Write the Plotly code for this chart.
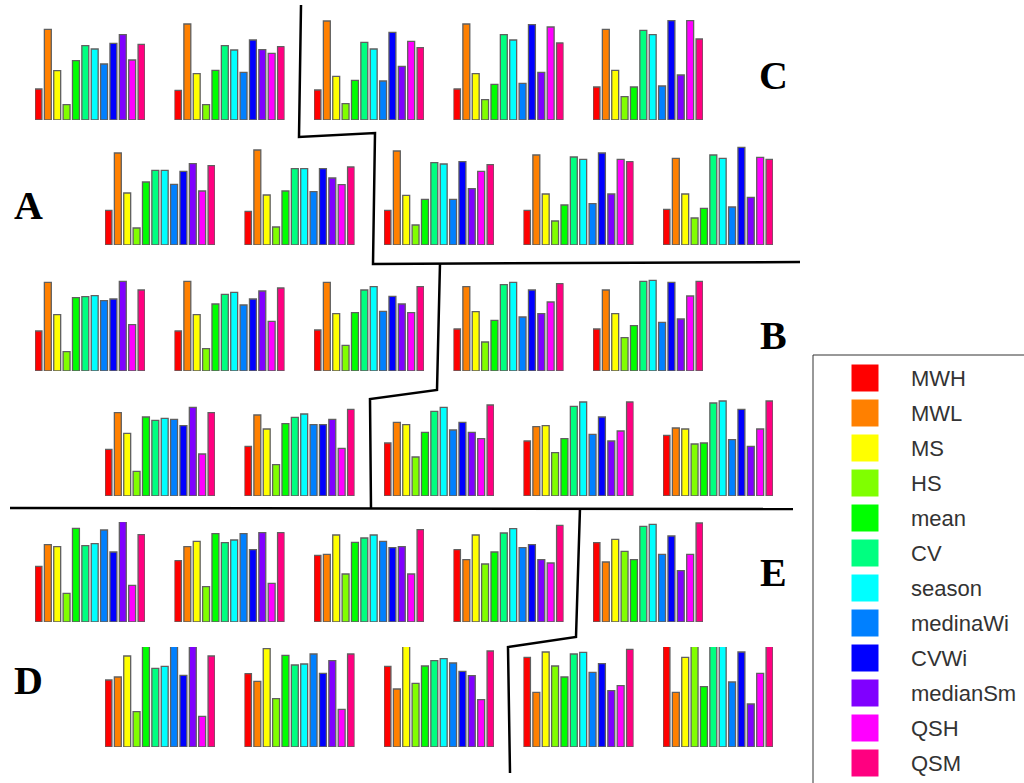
import plotly.graph_objects as go

W, H = 1024, 783

categories = ["MWH", "MWL", "MS", "HS", "mean", "CV", "season",
              "medinaWi", "CVWi", "medianSm", "QSH", "QSM"]
colors = ["#FF0000", "#FF8000", "#FFFF00", "#80FF00", "#00FF00", "#00FF80",
          "#00FFFF", "#0080FF", "#0000FF", "#8000FF", "#FF00FF", "#FF0080"]

# bar heights (relative units), 5 small charts per row
row1 = [
    [93, 272, 148, 46, 178, 223, 213, 168, 230, 256, 180, 227],
    [89, 288, 139, 46, 149, 223, 210, 143, 240, 211, 200, 220],
    [90, 297, 131, 49, 119, 233, 213, 117, 263, 161, 236, 217],
    [93, 288, 139, 61, 107, 256, 240, 110, 286, 143, 279, 231],
    [99, 272, 149, 70, 99, 269, 256, 102, 298, 135, 298, 243],
]
row2 = [
    [104, 276, 156, 51, 189, 224, 224, 182, 221, 244, 162, 238],
    [101, 285, 150, 54, 162, 229, 229, 160, 229, 201, 181, 234],
    [104, 282, 149, 60, 137, 247, 243, 137, 250, 169, 221, 241],
    [104, 270, 153, 72, 120, 264, 257, 124, 276, 153, 257, 250],
    [107, 260, 153, 81, 110, 270, 260, 114, 293, 143, 263, 257],
]
row3 = [
    [120, 266, 169, 58, 220, 223, 226, 211, 216, 269, 139, 243],
    [120, 269, 169, 67, 201, 230, 236, 198, 216, 240, 149, 249],
    [123, 266, 172, 77, 175, 243, 253, 179, 224, 201, 175, 253],
    [126, 253, 178, 87, 152, 259, 266, 162, 243, 172, 207, 262],
    [126, 243, 172, 100, 136, 269, 272, 146, 266, 156, 225, 269],
]
row4 = [
    [140, 250, 188, 74, 237, 227, 233, 230, 211, 266, 126, 250],
    [149, 243, 201, 94, 217, 236, 246, 214, 214, 230, 143, 260],
    [159, 221, 214, 117, 191, 254, 266, 198, 221, 191, 172, 273],
    [165, 208, 211, 130, 172, 269, 282, 185, 237, 165, 195, 282],
    [182, 204, 201, 156, 159, 279, 285, 169, 260, 149, 201, 285],
]
row5 = [
    [167, 232, 226, 86, 281, 229, 235, 276, 210, 301, 110, 262],
    [184, 226, 242, 106, 265, 238, 246, 265, 217, 268, 116, 268],
    [200, 203, 261, 144, 239, 252, 261, 242, 223, 226, 144, 277],
    [217, 187, 261, 174, 210, 267, 280, 223, 232, 187, 177, 290],
    [238, 180, 248, 212, 187, 287, 293, 203, 258, 154, 203, 297],
]
row6 = [
    [201, 210, 273, 106, 302, 236, 242, 302, 215, 302, 92, 273],
    [220, 197, 295, 145, 275, 246, 249, 279, 221, 259, 113, 279],
    [242, 174, 302, 191, 243, 259, 265, 252, 227, 214, 142, 288],
    [269, 164, 285, 243, 210, 279, 284, 224, 250, 169, 184, 293],
    [302, 164, 269, 302, 181, 302, 302, 195, 285, 129, 221, 302],
]
rows = [row1, row2, row3, row4, row5, row6]

region_labels = ["C", "A", "B", "E", "D"]

# ---- layout geometry (pixels) ----
row_left = [35, 105, 35, 105, 35, 105]
row_base = [120, 245, 371, 496, 622, 747]
col_pitch = 139.5
chart_w = 110
chart_h = 100
y_max = 300
bar_gap = 0.26

label_pos = [(773, 75), (28, 205), (773, 335), (773, 572), (28, 680)]
divider_paths = [
    [(301, 5), (299, 137), (375, 133), (373, 264), (800, 262)],
    [(440, 263), (437, 390), (370, 399), (371, 508)],
    [(10, 508), (793, 509)],
    [(580, 508), (576, 637), (508, 647), (510, 773)],
]


def px(x):
    return x / W


def py(y):
    return 1 - y / H


fig = go.Figure()
layout = {}
k = 0
xs = list(range(len(categories)))
half = (1 - bar_gap) / 2
for r, row in enumerate(rows):
    for c, vals in enumerate(row):
        k += 1
        left = row_left[r] + c * col_pitch
        base = row_base[r]
        xa = "xaxis" if k == 1 else f"xaxis{k}"
        ya = "yaxis" if k == 1 else f"yaxis{k}"
        layout[xa] = dict(domain=[px(left), px(left + chart_w)],
                          range=[-half, len(categories) - 1 + half],
                          visible=False, fixedrange=True)
        layout[ya] = dict(domain=[py(base), py(base - chart_h)],
                          range=[0, y_max], visible=False, fixedrange=True)
        fig.add_trace(go.Bar(
            x=xs, y=vals,
            xaxis="x" if k == 1 else f"x{k}",
            yaxis="y" if k == 1 else f"y{k}",
            marker=dict(color=colors, line=dict(color="#606060", width=1.3)),
            showlegend=False, hoverinfo="skip"))

# legend drawn on its own axis (pixel units)
k += 1
layout[f"xaxis{k}"] = dict(domain=[px(813), 1], range=[813, W],
                           visible=False, fixedrange=True)
layout[f"yaxis{k}"] = dict(domain=[0, py(355)], range=[H, 355],
                           visible=False, fixedrange=True)
leg_y = [378 + 35 * i for i in range(len(categories))]
fig.add_trace(go.Scatter(
    x=[865] * len(categories), y=leg_y, xaxis=f"x{k}", yaxis=f"y{k}",
    mode="markers", marker=dict(symbol="square", size=27, color=colors,
                                line=dict(width=0)),
    showlegend=False, hoverinfo="skip"))
annotations = []
for name, yy in zip(categories, leg_y):
    annotations.append(dict(x=909, y=yy, xref=f"x{k}", yref=f"y{k}",
                            text=name, showarrow=False, xanchor="left",
                            yanchor="middle",
                            font=dict(family="Liberation Sans", size=22,
                                      color="#333333")))

for lab, (lx, ly) in zip(region_labels, label_pos):
    annotations.append(dict(x=px(lx), y=py(ly), xref="paper", yref="paper",
                            text=f"<b>{lab}</b>", showarrow=False,
                            xanchor="center", yanchor="middle",
                            font=dict(family="Liberation Serif", size=40,
                                      color="black")))

shapes = [dict(type="rect", xref="paper", yref="paper",
               x0=px(813), x1=px(1030), y0=py(790), y1=py(355),
               line=dict(color="#333333", width=1))]
for path in divider_paths:
    d = "M " + " L ".join(f"{px(x):.5f},{py(y):.5f}" for x, y in path)
    shapes.append(dict(type="path", xref="paper", yref="paper", path=d,
                       line=dict(color="black", width=2.5)))

fig.update_layout(
    width=W, height=H, margin=dict(l=0, r=0, t=0, b=0),
    paper_bgcolor="white", plot_bgcolor="white",
    bargap=bar_gap, showlegend=False,
    annotations=annotations, shapes=shapes, **layout)

fig.write_html("out.html",
               config={"displayModeBar": False, "staticPlot": True},
               post_script="document.body.style.margin='0';"
                           "document.body.style.overflow='hidden';")
